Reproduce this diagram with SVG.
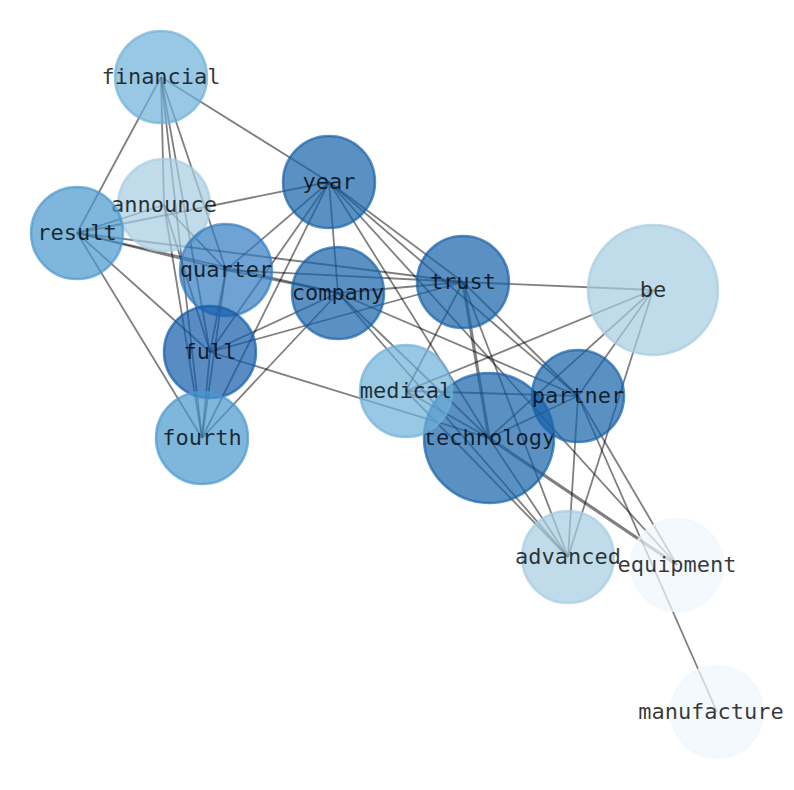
<svg xmlns="http://www.w3.org/2000/svg" width="794" height="790" viewBox="0 0 794 790">
<style>
.e{stroke:#000;stroke-opacity:0.5;stroke-width:1.8;fill:none}
.w{stroke-width:3.2}
.n circle{fill-opacity:0.7;stroke-opacity:0.7;stroke-width:2.5}
.n text{font-family:"DejaVu Sans Mono",monospace;font-size:22px;fill:#000;fill-opacity:0.78;text-anchor:middle;dominant-baseline:central}
</style>
<rect width="794" height="790" fill="#fff"/>
<g id="edges">
<line class="e" x1="161" y1="77" x2="77" y2="233"/>
<line class="e" x1="161" y1="77" x2="329" y2="182"/>
<line class="e" x1="161" y1="77" x2="164" y2="205"/>
<line class="e" x1="161" y1="77" x2="226" y2="270"/>
<line class="e" x1="161" y1="77" x2="210" y2="352"/>
<line class="e" x1="161" y1="77" x2="202" y2="438"/>
<line class="e" x1="77" y1="233" x2="329" y2="182"/>
<line class="e" x1="77" y1="233" x2="164" y2="205"/>
<line class="e" x1="77" y1="233" x2="226" y2="270"/>
<line class="e" x1="77" y1="233" x2="338" y2="293"/>
<line class="e" x1="77" y1="233" x2="463" y2="282"/>
<line class="e" x1="77" y1="233" x2="210" y2="352"/>
<line class="e" x1="77" y1="233" x2="202" y2="438"/>
<line class="e" x1="164" y1="205" x2="226" y2="270"/>
<line class="e" x1="164" y1="205" x2="210" y2="352"/>
<line class="e" x1="164" y1="205" x2="202" y2="438"/>
<line class="e" x1="329" y1="182" x2="226" y2="270"/>
<line class="e" x1="329" y1="182" x2="338" y2="293"/>
<line class="e" x1="329" y1="182" x2="210" y2="352"/>
<line class="e" x1="329" y1="182" x2="202" y2="438"/>
<line class="e" x1="329" y1="182" x2="463" y2="282"/>
<line class="e" x1="329" y1="182" x2="578" y2="396"/>
<line class="e" x1="329" y1="182" x2="489" y2="438"/>
<line class="e" x1="329" y1="182" x2="677" y2="565"/>
<line class="e" x1="226" y1="270" x2="338" y2="293"/>
<line class="e" x1="226" y1="270" x2="463" y2="282"/>
<line class="e" x1="226" y1="270" x2="210" y2="352"/>
<line class="e" x1="226" y1="270" x2="202" y2="438"/>
<line class="e" x1="338" y1="293" x2="463" y2="282"/>
<line class="e" x1="338" y1="293" x2="210" y2="352"/>
<line class="e" x1="338" y1="293" x2="202" y2="438"/>
<line class="e" x1="338" y1="293" x2="489" y2="438"/>
<line class="e" x1="338" y1="293" x2="578" y2="396"/>
<line class="e" x1="338" y1="293" x2="568" y2="557"/>
<line class="e" x1="463" y1="282" x2="210" y2="352"/>
<line class="e" x1="463" y1="282" x2="653" y2="290"/>
<line class="e" x1="463" y1="282" x2="406" y2="391"/>
<line class="e w" x1="463" y1="282" x2="489" y2="438"/>
<line class="e" x1="463" y1="282" x2="568" y2="557"/>
<line class="e" x1="463" y1="282" x2="578" y2="396"/>
<line class="e" x1="210" y1="352" x2="489" y2="438"/>
<line class="e" x1="210" y1="352" x2="202" y2="438"/>
<line class="e" x1="653" y1="290" x2="406" y2="391"/>
<line class="e" x1="653" y1="290" x2="489" y2="438"/>
<line class="e" x1="653" y1="290" x2="578" y2="396"/>
<line class="e" x1="653" y1="290" x2="568" y2="557"/>
<line class="e" x1="406" y1="391" x2="578" y2="396"/>
<line class="e" x1="406" y1="391" x2="489" y2="438"/>
<line class="e" x1="406" y1="391" x2="568" y2="557"/>
<line class="e" x1="489" y1="438" x2="578" y2="396"/>
<line class="e" x1="489" y1="438" x2="568" y2="557"/>
<line class="e w" x1="489" y1="438" x2="677" y2="565"/>
<line class="e" x1="578" y1="396" x2="568" y2="557"/>
<line class="e" x1="578" y1="396" x2="677" y2="565"/>
<line class="e" x1="578" y1="396" x2="717" y2="712"/>
</g>
<g id="node-announce" class="n"><circle cx="164" cy="205" r="46" fill="#a5cce1" stroke="#a5cce1"/><text x="164" y="204">announce</text></g>
<g id="node-financial" class="n"><circle cx="161" cy="77" r="46" fill="#6db0d8" stroke="#6db0d8"/><text x="161" y="76">financial</text></g>
<g id="node-result" class="n"><circle cx="77" cy="233" r="46" fill="#4897cd" stroke="#4897cd"/><text x="77" y="232">result</text></g>
<g id="node-year" class="n"><circle cx="329" cy="182" r="46" fill="#1561aa" stroke="#1561aa"/><text x="329" y="181">year</text></g>
<g id="node-quarter" class="n"><circle cx="226" cy="270" r="46" fill="#317cc1" stroke="#317cc1"/><text x="226" y="269">quarter</text></g>
<g id="node-company" class="n"><circle cx="338" cy="293" r="46" fill="#1561aa" stroke="#1561aa"/><text x="338" y="292">company</text></g>
<g id="node-trust" class="n"><circle cx="463" cy="282" r="46" fill="#1561aa" stroke="#1561aa"/><text x="463" y="281">trust</text></g>
<g id="node-be" class="n"><circle cx="653" cy="290" r="65" fill="#a5cce1" stroke="#a5cce1"/><text x="653" y="289">be</text></g>
<g id="node-full" class="n"><circle cx="210" cy="352" r="46" fill="#135ba8" stroke="#135ba8"/><text x="210" y="351">full</text></g>
<g id="node-fourth" class="n"><circle cx="202" cy="438" r="46" fill="#4897cd" stroke="#4897cd"/><text x="202" y="437">fourth</text></g>
<g id="node-technology" class="n"><circle cx="489" cy="438" r="65" fill="#1561aa" stroke="#1561aa"/><text x="489" y="437">technology</text></g>
<g id="node-medical" class="n"><circle cx="406" cy="391" r="46" fill="#6db0d8" stroke="#6db0d8"/><text x="406" y="390">medical</text></g>
<g id="node-partner" class="n"><circle cx="578" cy="396" r="46" fill="#1561aa" stroke="#1561aa"/><text x="578" y="395">partner</text></g>
<g id="node-advanced" class="n"><circle cx="568" cy="557" r="46" fill="#a5cce1" stroke="#a5cce1"/><text x="568" y="556">advanced</text></g>
<g id="node-equipment" class="n"><circle cx="677" cy="565" r="46" fill="#f0f6fd" stroke="#f0f6fd"/><text x="677" y="564">equipment</text></g>
<g id="node-manufacture" class="n"><circle cx="717" cy="712" r="46" fill="#f0f6fd" stroke="#f0f6fd"/><text x="711" y="711">manufacture</text></g>
</svg>
